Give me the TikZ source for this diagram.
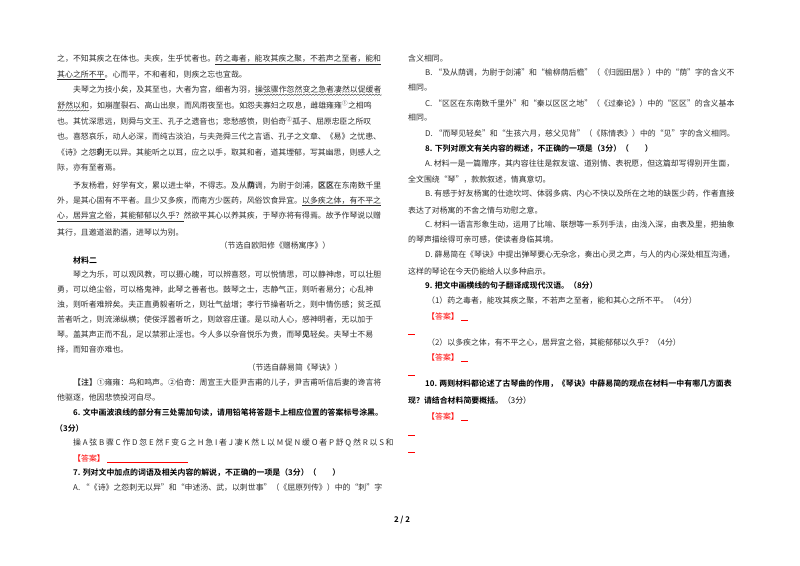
\documentclass[tikz,border=0pt]{standalone}
\usepackage{fontspec}
\setmainfont{Noto Sans CJK SC}[BoldFont={Noto Sans CJK SC Bold}]
\usetikzlibrary{decorations.pathmorphing}
\newcommand\zd[1]{\textbf{#1}\llap{\smash{\raisebox{0.75em}{\makebox[1em]{\textbf{.}}}}}}
\newcommand\ul[1]{\underline{#1}}
\newcommand\wv[1]{\tikz[baseline=(w.base)]{\node[inner sep=0pt,outer sep=0pt](w){#1};\draw[line width=0.4pt,decorate,decoration={snake,amplitude=0.6pt,segment length=3pt}] ([yshift=-1.4pt]w.south west) -- ([yshift=-1.4pt]w.south east);}}
\begin{document}
\begin{tikzpicture}[x=1pt,y=-1pt,
  ln/.style={inner sep=0pt,anchor=west,font=\fontsize{7.9}{9}\selectfont,text=black!82},
  bq/.style={ln,font=\fontsize{7.9}{9}\selectfont\bfseries,text=black},
  ans/.style={ln,text=red},
  rdash/.style={red,line width=0.6pt}]
\useasboundingbox (0,0) rectangle (800,565);
\fill[white] (0,0) rectangle (800,565);
% left column
\node[ln] (l1) at (57,60) {之，不知其疾之在体也。夫疾，生乎忧者也。\ul{药之毒者，能攻其疾之聚，不若声之至者，能和}};
\node[ln] (l2) at (57,75.4) {\ul{其心之所不平}。心而平，不和者和，则疾之忘也宜哉。};
\node[ln] (l3) at (73,90.8) {夫琴之为技小矣，及其至也，大者为宫，细者为羽，\wv{操弦骤作忽然变之急者凄然以促缓者}};
\node[ln] (l4) at (57,106.2) {\wv{舒然以和}，如崩崖裂石、高山出泉，而风雨夜至也。如怨夫寡妇之叹息，雌雄雍雍\textsuperscript{①}之相鸣};
\node[ln] (l5) at (57,121.6) {也。其忧深思远，则舜与文王、孔子之遗音也；悲愁感愤，则伯奇\textsuperscript{②}孤子、屈原忠臣之所叹};
\node[ln] (l6) at (57,137) {也。喜怒哀乐，动人必深，而纯古淡泊，与夫尧舜三代之言语、孔子之文章、《易》之忧患、};
\node[ln] (l7) at (57,152.4) {《诗》之怨\zd{刺}无以异。其能听之以耳，应之以手，取其和者，道其堙郁，写其幽思，则感人之};
\node[ln] (l8) at (57,167.8) {际，亦有至者焉。};
\node[ln] (l9) at (73,186) {予友杨君，好学有文，累以进士举，不得志。及从\zd{荫}调，为尉于剑浦，\zd{区}\zd{区}在东南数千里};
\node[ln] (l10) at (57,201.4) {外，是其心固有不平者。且少又多疾，而南方少医药，风俗饮食异宜。\ul{以多疾之体，有不平之}};
\node[ln] (l11) at (57,216.8) {\ul{心，居异宜之俗，其能郁郁以久乎？}然欲平其心以养其疾，于琴亦将有得焉。故予作琴说以赠};
\node[ln] (l12) at (57,232.2) {其行，且邀道滋酌酒，进琴以为别。};
\node[ln,anchor=center] (s1) at (275,245.5) {（节选自欧阳修《赠杨寓序》）};
\node[bq] (m2) at (73,260) {材料二};
\node[ln] (l15) at (73,275) {琴之为乐，可以观风教，可以摄心魄，可以辨喜怒，可以悦情思，可以静神虑，可以壮胆};
\node[ln] (l16) at (57,290) {勇，可以绝尘俗，可以格鬼神，此琴之善者也。鼓琴之士，志静气正，则听者易分；心乱神};
\node[ln] (l17) at (57,305) {浊，则听者难辨矣。夫正直勇毅者听之，则壮气益增；孝行节操者听之，则中情伤感；贫乏孤};
\node[ln] (l18) at (57,320) {苦者听之，则流涕纵横；使佞浮嚣者听之，则敛容庄谨。是以动人心，感神明者，无以加于};
\node[ln] (l19) at (57,335) {琴。盖其声正而不乱，足以禁邪止淫也。今人多以杂音悦乐为贵，而琴\zd{见}轻矣。夫琴士不易};
\node[ln] (l20) at (57,350) {择，而知音亦难也。};
\node[ln,anchor=center] (s2) at (295,367) {（节选自薛易简《琴诀》）};
\node[ln] (n1) at (73,383) {\textbf{【注】}①雍雍：鸟和鸣声。②伯奇：周宣王大臣尹吉甫的儿子，尹吉甫听信后妻的谗言将};
\node[ln] (n2) at (57,398) {他驱逐，他因悲愤投河自尽。};
\node[bq] (q6) at (73,413) {6. 文中画波浪线的部分有三处需加句读，请用铅笔将答题卡上相应位置的答案标号涂黑。};
\node[bq] (q6b) at (55,428) {（3分）};
\node[ln] (q6c) at (73,443) {操 A 弦 B 骤 C 作 D 忽 E 然 F 变 G 之 H 急 I 者 J 凄 K 然 L 以 M 促 N 缓 O 者 P 舒 Q 然 R 以 S 和};
\node[ans] (a6) at (73,458) {【答案】};
\draw[rdash] (a6.south east) ++(2,0) coordinate (u6a) -- ++(81,0) coordinate (u6b);
\node[bq] (q7) at (73,473) {7. 列对文中加点的词语及相关内容的解说，不正确的一项是（3分）（　　）};
\node[ln] (q7a) at (73,488) {A. “《诗》之怨刺无以异”和“申述汤、武，以刺世事”（《屈原列传》）中的“刺”字};
% right column
\node[ln] (r1) at (408,58) {含义相同。};
\node[ln] (r2) at (425,73) {B. “及从荫调，为尉于剑浦”和“榆柳荫后檐”（《归园田居》）中的“荫”字的含义不};
\node[ln] (r3) at (408,88) {相同。};
\node[ln] (r4) at (425,103) {C. “区区在东南数千里外”和“秦以区区之地”（《过秦论》）中的“区区”的含义基本};
\node[ln] (r5) at (408,118) {相同。};
\node[ln] (r6) at (425,134) {D. “而琴见轻矣”和“生孩六月，慈父见背”（《陈情表》）中的“见”字的含义相同。};
\node[bq] (q8) at (425,148.5) {8. 下列对原文有关内容的概述，不正确的一项是（3分）（　　）};
\node[ln] (r8) at (425,163.5) {A. 材料一是一篇赠序，其内容往往是叙友谊、道别情、表祝愿，但这篇却写得别开生面，};
\node[ln] (r9) at (408,179.5) {全文围绕“琴”，款款叙述，情真意切。};
\node[ln] (r10) at (425,194) {B. 有感于好友杨寓的仕途坎坷、体弱多病、内心不快以及所在之地的缺医少药，作者直接};
\node[ln] (r11) at (408,210) {表达了对杨寓的不舍之情与劝慰之意。};
\node[ln] (r12) at (425,224.5) {C. 材料一语言形象生动，运用了比喻、联想等一系列手法，由浅入深，由表及里，把抽象};
\node[ln] (r13) at (408,240) {的琴声描绘得可亲可感，使读者身临其境。};
\node[ln] (r14) at (425,255) {D. 薛易简在《琴诀》中提出弹琴要心无杂念，奏出心灵之声，与人的内心深处相互沟通，};
\node[ln] (r15) at (408,271) {这样的琴论在今天仍能给人以多种启示。};
\node[bq] (q9) at (425,285.5) {9. 把文中画横线的句子翻译成现代汉语。（8分）};
\node[ln] (r17) at (427,301) {（1）药之毒者，能攻其疾之聚，不若声之至者，能和其心之所不平。（4分）};
\node[ans] (a91) at (427,316) {【答案】};
\draw[rdash] (a91.south east) ++(2,0) -- ++(7,0);
\draw[rdash] (408,334) coordinate (d1) -- ++(7,0);
\node[ln] (r19) at (427,343) {（2）以多疾之体，有不平之心，居异宜之俗，其能郁郁以久乎？（4分）};
\node[ans] (a92) at (427,357.5) {【答案】};
\draw[rdash] (a92.south east) ++(2,0) -- ++(7,0);
\draw[rdash] (408,375) coordinate (d2) -- ++(7,0);
\node[bq] (q10) at (425,384) {10. 两则材料都论述了古琴曲的作用，《琴诀》中薛易简的观点在材料一中有哪几方面表};
\node[bq] (q10b) at (408,400) {现？请结合材料简要概括。\mdseries（3分）};
\node[ans] (a10) at (427,416) {【答案】};
\draw[rdash] (a10.south east) ++(2,0) -- ++(7,0);
\draw[rdash] (408,435) coordinate (d3) -- ++(7,0);
\draw[rdash] (408,452) coordinate (d4) -- ++(7,0);
\node[bq,anchor=center] (pg) at (402,520) {2 / 2};
\end{tikzpicture}
\end{document}
